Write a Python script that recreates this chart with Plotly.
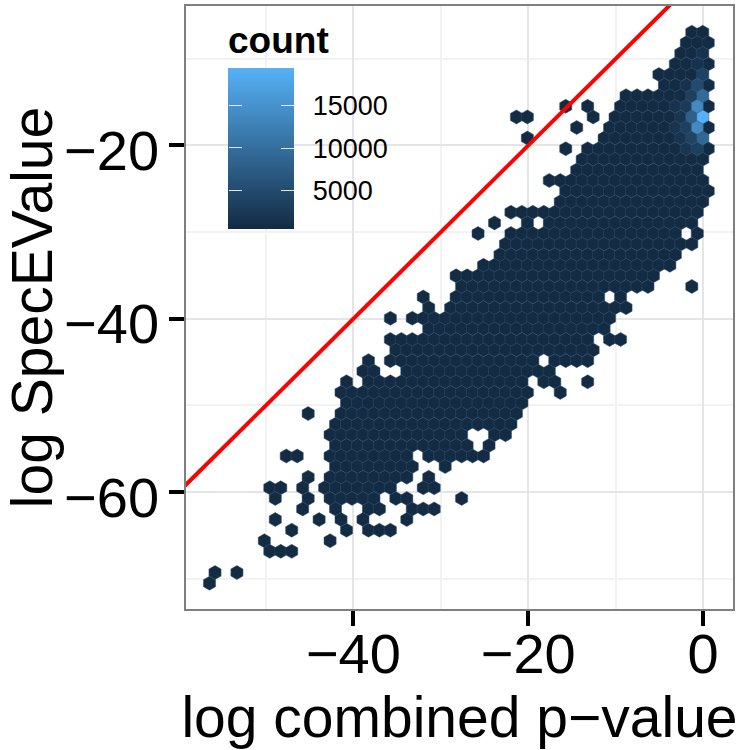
import plotly.graph_objects as go

# Hexagon bin grid
bin_half_width = 0.627     # log combined p-value per half column
bin_height = 1.223         # log SpecEValue per row
first_row_value = -6.92    # row index -8
first_row_index = -8

# occupied columns for each row, as (first, last) half-column indices
occupied = {
    -8: [(-2, 0)], -7: [(-3, 1)], -6: [(-4, 0)], -5: [(-5, 1)], -4: [(-8, 0)], -3: [(-7, 1)],
    -2: [(-14, 0)], -1: [(-25, -25), (-21, -21), (-15, 1)],
    0: [(-34, -32), (-20, -20), (-16, 0)], 1: [(-23, -23), (-17, 1)],
    2: [(-32, -32), (-18, 0)], 3: [(-25, -25), (-21, 1)], 4: [(-22, 0)], 5: [(-23, -1)],
    6: [(-28, 0)], 7: [(-25, 1)], 8: [(-26, 0)], 9: [(-35, -1)],
    10: [(-38, -38), (-32, -32), (-28, -2)], 11: [(-41, -41), (-35, -5), (-1, -1)],
    12: [(-36, -2)], 13: [(-37, -5)], 14: [(-40, -6)], 15: [(-45, -9)],
    16: [(-44, -10), (-2, -2)], 17: [(-51, -51), (-45, -19), (-15, -15)],
    18: [(-50, -50), (-46, -14)], 19: [(-57, -57), (-53, -17)], 20: [(-50, -18)],
    21: [(-57, -21), (-17, -15)], 22: [(-56, -20)],
    23: [(-61, -61), (-57, -31), (-27, -21)], 24: [(-62, -60), (-54, -28)],
    25: [(-65, -65), (-61, -33), (-29, -27), (-21, -21)], 26: [(-66, -32), (-26, -26)],
    27: [(-65, -33)], 28: [(-72, -72), (-66, -34)], 29: [(-67, -35)],
    30: [(-68, -44), (-38, -36)], 31: [(-67, -43), (-39, -39)],
    32: [(-76, -74), (-68, -54), (-50, -40)], 33: [(-67, -53), (-47, -47)],
    34: [(-72, -72), (-68, -54), (-50, -50)],
    35: [(-79, -77), (-73, -73), (-69, -57), (-51, -49)],
    36: [(-78, -78), (-72, -72), (-68, -60), (-56, -54), (-44, -44)],
    37: [(-73, -73), (-67, -67), (-61, -59), (-53, -49)],
    38: [(-78, -78), (-70, -70), (-66, -66), (-62, -62), (-54, -54)],
    39: [(-75, -75), (-65, -65), (-61, -57)], 40: [(-80, -80), (-68, -68)],
    41: [(-79, -75)], 43: [(-89, -89), (-85, -85)], 44: [(-90, -90)],
}
typical_count = 600
# (row, half-column): count, for the cells that are visibly brighter
bright_counts = {
    (0, 0): 19400, (-1, -1): 14000, (1, -1): 14000, (-2, 0): 9500, (2, 0): 9000,
    (0, -2): 8000, (-3, -1): 5000, (-4, 0): 3800, (-2, -2): 3500, (1, -3): 3500,
    (2, -2): 4000, (3, -1): 3500, (-1, -3): 2600, (0, -4): 2000, (3, -3): 2000,
    (-1, -5): 1500, (1, -5): 1700, (2, -4): 1800, (-3, -3): 1500, (-5, -1): 1500, (-6, 0): 1500,
}
color_low = "#132B43"
color_high = "#56B1F7"
count_min = 500
count_max = 19450
count_ticks = [5000, 10000, 15000]
count_tick_labels = ["\u00a0\u20095000", "\u00a0\u200910000", "\u00a0\u200915000"]
x_ticks = [-40, -20, 0]
y_ticks = [-60, -40, -20]
x_tick_labels = ["\u221240", "\u221220", "0"]
y_tick_labels = ["\u221260", "\u221240", "\u221220"]
x_span = [-59.15, 3.43]
y_span = [-73.5, -3.9]
identity_line = [-100, 20]

hex_x, hex_y, hex_count = [], [], []
for row, spans in occupied.items():
    for first, last in spans:
        for col in range(first, last + 1, 2):
            hex_x.append(col * bin_half_width - 0.03)
            hex_y.append(first_row_value - (row - first_row_index) * bin_height)
            hex_count.append(bright_counts.get((row, col), typical_count))

order = sorted(range(len(hex_x)), key=lambda i: hex_count[i])
hex_x = [hex_x[i] for i in order]
hex_y = [hex_y[i] for i in order]
hex_count = [hex_count[i] for i in order]

W, H = 740, 750
L, R, T, B = 186, 733, 6, 609
plot_w, plot_h = R - L, B - T
bar_left, bar_right, bar_top, bar_bottom = 228, 294, 67, 229
title_room = 45
tick_font = "Liberation Sans"
scale = [[0, color_low], [1, color_high]]

fig = go.Figure()
fig.add_trace(go.Scatter(
    x=hex_x, y=hex_y, mode="markers", showlegend=False, hoverinfo="skip",
    marker=dict(
        symbol="hexagon", size=14, color=hex_count, cmin=count_min, cmax=count_max,
        colorscale=scale, line=dict(width=0.5, color="#33506e"),
        colorbar=dict(
            title=dict(text="<b>count</b>", side="top", font=dict(size=37, color="black", family=tick_font)),
            x=(bar_left - L) / plot_w, xanchor="left", xpad=0,
            y=1 - (bar_top - title_room - T) / plot_h, yanchor="top", ypad=0,
            len=bar_bottom - bar_top + title_room, lenmode="pixels",
            thickness=bar_right - bar_left, thicknessmode="pixels",
            outlinewidth=0, borderwidth=0, bgcolor="rgba(0,0,0,0)",
            tickvals=count_ticks, ticktext=count_tick_labels,
            ticks="inside", ticklen=13, tickwidth=1, tickcolor="rgba(255,255,255,0.85)",
            tickfont=dict(size=27, color="black", family=tick_font),
        ),
    ),
))
# transparent companion colour bar: draws the same ticks on the bar's left side
fig.add_trace(go.Scatter(
    x=[hex_x[0]], y=[hex_y[0]], mode="markers", showlegend=False, hoverinfo="skip",
    marker=dict(
        size=1, opacity=0, color=[count_min], cmin=count_min, cmax=count_max,
        colorscale=[[0, "rgba(0,0,0,0)"], [1, "rgba(0,0,0,0)"]],
        colorbar=dict(
            x=(bar_left - L) / plot_w, xanchor="left", xpad=0,
            y=1 - (bar_top - T) / plot_h, yanchor="top", ypad=0,
            len=bar_bottom - bar_top, lenmode="pixels",
            thickness=1, thicknessmode="pixels",
            outlinewidth=0, borderwidth=0, bgcolor="rgba(0,0,0,0)",
            tickvals=count_ticks, ticks="outside", ticklen=13, tickwidth=1,
            tickcolor="rgba(255,255,255,0.85)", showticklabels=False,
        ),
    ),
))
fig.add_trace(go.Scatter(
    x=identity_line, y=identity_line, mode="lines", showlegend=False, hoverinfo="skip",
    line=dict(color="#ff0000", width=4),
))

axis_common = dict(
    showgrid=True, gridcolor="#e5e5e5", gridwidth=1.5, zeroline=False,
    showline=True, mirror=True, linecolor="#7f7f7f", linewidth=1.5,
    ticks="outside", ticklen=15, tickwidth=3.5, tickcolor="black",
    minor=dict(dtick=10, showgrid=True, gridcolor="#f2f2f2", gridwidth=1.5, ticks=""),
    tickfont=dict(size=56, color="black", family=tick_font),
)
fig.update_layout(
    width=W, height=H, margin=dict(l=L, r=W - R, t=T, b=H - B, autoexpand=False),
    paper_bgcolor="white", plot_bgcolor="white", font=dict(family=tick_font, color="black"),
    xaxis=dict(range=x_span, tickvals=x_ticks, ticktext=x_tick_labels, ticklabelstandoff=-20,
               title=dict(text="log combined p\u2212value", font=dict(size=57, color="black"), standoff=0),
               **axis_common),
    yaxis=dict(range=y_span, tickvals=y_ticks, ticktext=y_tick_labels, ticklabelstandoff=-1, ticklabelshift=5,
               title=dict(text="log SpecEValue", font=dict(size=57, color="black"), standoff=9),
               **axis_common),
)
fig.write_html("out.html", post_script="document.body.style.margin='0';", config={"displayModeBar": False})
